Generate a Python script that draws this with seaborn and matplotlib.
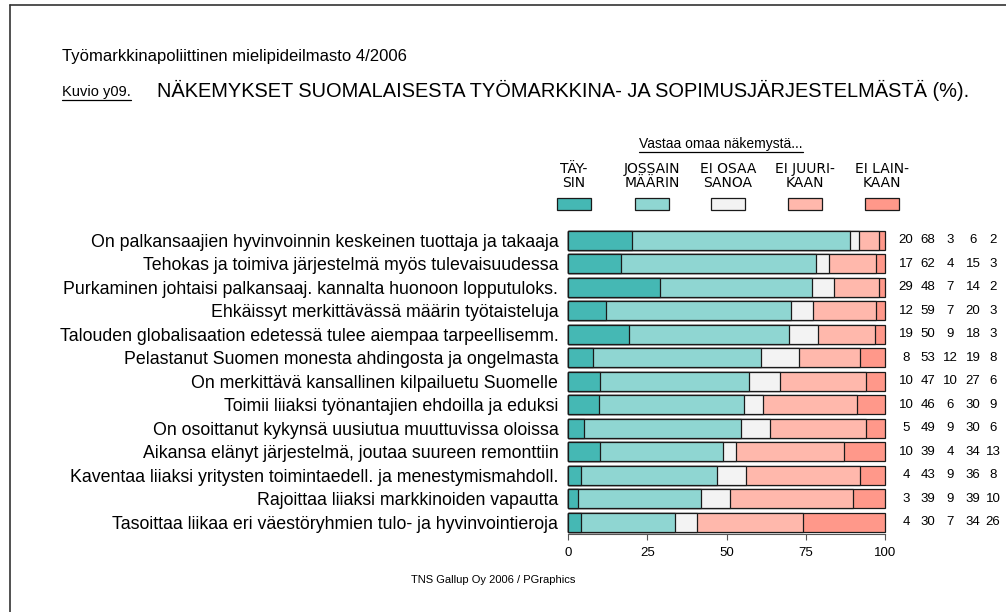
import numpy as np
import pandas as pd
import matplotlib.pyplot as plt
import seaborn as sns
from matplotlib.lines import Line2D
from matplotlib.patches import Rectangle

# Data
statements = [
    "On palkansaajien hyvinvoinnin keskeinen tuottaja ja takaaja",
    "Tehokas ja toimiva järjestelmä myös tulevaisuudessa",
    "Purkaminen johtaisi palkansaaj. kannalta huonoon lopputuloks.",
    "Ehkäissyt merkittävässä määrin työtaisteluja",
    "Talouden globalisaation edetessä tulee aiempaa tarpeellisemm.",
    "Pelastanut Suomen monesta ahdingosta ja ongelmasta",
    "On merkittävä kansallinen kilpailuetu Suomelle",
    "Toimii liiaksi työnantajien ehdoilla ja eduksi",
    "On osoittanut kykynsä uusiutua muuttuvissa oloissa",
    "Aikansa elänyt järjestelmä, joutaa suureen remonttiin",
    "Kaventaa liiaksi yritysten toimintaedell. ja menestymismahdoll.",
    "Rajoittaa liiaksi markkinoiden vapautta",
    "Tasoittaa liikaa eri väestöryhmien tulo- ja hyvinvointieroja",
]
taysin   = [20, 17, 29, 12, 19, 8, 10, 10, 5, 10, 4, 3, 4]
jossain  = [68, 62, 48, 59, 50, 53, 47, 46, 49, 39, 43, 39, 30]
ei_osaa  = [3, 4, 7, 7, 9, 12, 10, 6, 9, 4, 9, 9, 7]
ei_juuri = [6, 15, 14, 20, 18, 19, 27, 30, 30, 34, 36, 39, 34]
ei_lain  = [2, 3, 2, 3, 3, 8, 6, 9, 6, 13, 8, 10, 26]

categories = ["TÄY-\nSIN", "JOSSAIN\nMÄÄRIN", "EI OSAA\nSANOA", "EI JUURI-\nKAAN", "EI LAIN-\nKAAN"]
colors = ["#45B8B4", "#8FD6D2", "#F3F3F3", "#FFB8AC", "#FF988A"]
xticks = [0, 25, 50, 75, 100]

df = pd.DataFrame({"statement": statements, "c0": taysin, "c1": jossain,
                   "c2": ei_osaa, "c3": ei_juuri, "c4": ei_lain})
cols = ["c0", "c1", "c2", "c3", "c4"]
total = df[cols].sum(axis=1)
cum = df[cols].div(total, axis=0).mul(100).cumsum(axis=1)  # bars always fill to 100
cum["statement"] = statements

sns.set_style("white")
plt.rcParams["font.family"] = ["Liberation Sans", "DejaVu Sans"]
plt.rcParams["text.color"] = "black"
plt.rcParams["xtick.labelcolor"] = "black"
plt.rcParams["ytick.labelcolor"] = "black"

W, H = 1006, 612
fig = plt.figure(figsize=(W / 100, H / 100), dpi=100)
ax = fig.add_axes([568 / W, 1 - 534 / H, 317 / W, 305.5 / H])

# stacked bars: draw cumulative totals from the largest down
for i in reversed(range(5)):
    sns.barplot(data=cum, x=cols[i], y="statement", color=colors[i], saturation=1,
                edgecolor="#1a1a1a", linewidth=0.9, width=0.79, orient="h", ax=ax)
for p in ax.patches:
    p.set_clip_on(False)

ax.set_xlim(0, 100)
ax.set_ylim(len(statements) - 0.5, -0.5)
ax.set_xticks(xticks)
ax.set_xticklabels([str(t) for t in xticks], fontsize=9.5)
ax.set_xlabel("")
ax.set_ylabel("")
ax.tick_params(axis="y", length=0, pad=7, labelsize=12.8)
ax.tick_params(axis="x", length=4, width=0.8, color="#555555", direction="out", pad=5, bottom=True)
for s in ["top", "right", "left"]:
    ax.spines[s].set_visible(False)
ax.spines["bottom"].set_color("#555555")
ax.spines["bottom"].set_linewidth(0.8)

# value columns at the right
num_x = [106.6, 113.6, 120.5, 127.8, 134.1]
for r in range(len(statements)):
    for j, c in enumerate(cols):
        ax.text(num_x[j], r, str(df.loc[r, c]), ha="center", va="center",
                fontsize=9.5, clip_on=False)

def fx(px):
    return px / W

def fy(py):
    return 1 - py / H

# titles
fig.text(fx(62), fy(57), "Työmarkkinapoliittinen mielipideilmasto 4/2006",
         fontsize=12, va="center", ha="left")
kuvio = fig.text(fx(62), fy(96), "Kuvio y09.", fontsize=10.5, va="baseline", ha="left")
fig.text(fx(157), fy(97), "NÄKEMYKSET SUOMALAISESTA TYÖMARKKINA- JA SOPIMUSJÄRJESTELMÄSTÄ (%).",
         fontsize=14.4, va="baseline", ha="left")

# legend
head = fig.text(fx(721), fy(148), "Vastaa omaa näkemystä...", fontsize=10,
                va="baseline", ha="center")
leg_x = [574, 652, 728, 805, 882]
for cx, lab, col in zip(leg_x, categories, colors):
    fig.text(fx(cx), fy(176), lab, fontsize=10, ha="center", va="center",
             family=["Liberation Sans Narrow", "DejaVu Sans"], linespacing=1.0)
    fig.add_artist(Rectangle((fx(cx - 17), fy(210)), 34 / W, 12 / H,
                             facecolor=col, edgecolor="#1a1a1a", linewidth=0.9,
                             transform=fig.transFigure))

fig.text(fx(493), fy(580), "TNS Gallup Oy 2006 / PGraphics", fontsize=8,
         ha="center", va="center")

# underlines under small labels
fig.canvas.draw()
rend = fig.canvas.get_renderer()
for t in [kuvio, head]:
    bb = t.get_window_extent(rend)
    y = (bb.y0 - 0.5) / H
    fig.add_artist(Line2D([bb.x0 / W, bb.x1 / W], [y, y], color="black",
                          linewidth=0.9, transform=fig.transFigure))

# frame lines (left and top)
fig.add_artist(Line2D([fx(10), fx(10)], [fy(5), 0], color="#333333", linewidth=1.2,
                      transform=fig.transFigure))
fig.add_artist(Line2D([fx(10), 1], [fy(5), fy(5)], color="#333333", linewidth=1.2,
                      transform=fig.transFigure))

fig.savefig("out.png", dpi=100)
